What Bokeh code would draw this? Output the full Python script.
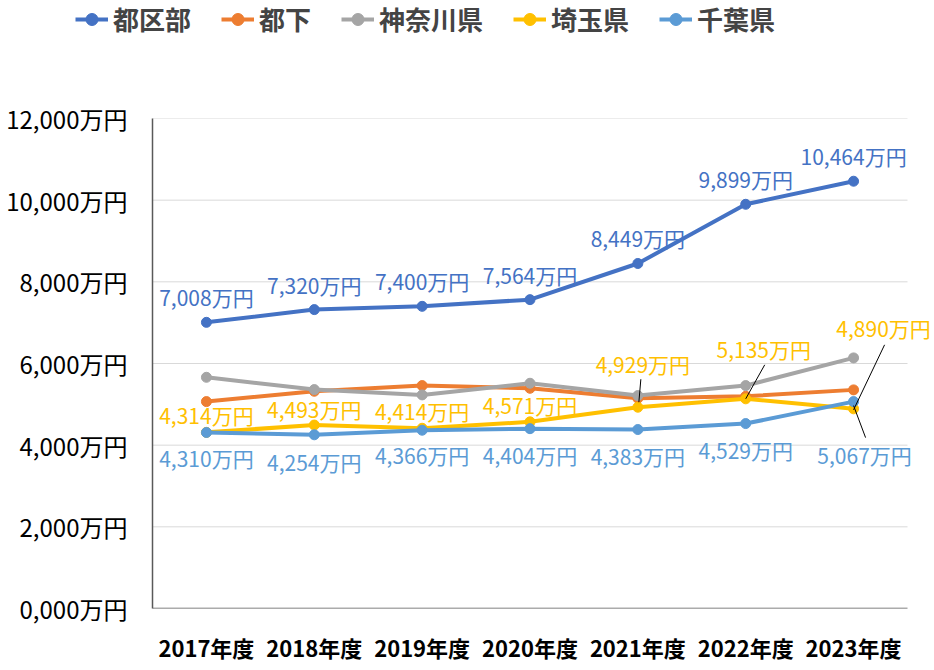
from bokeh.plotting import figure
from bokeh.models import FixedTicker, Legend, LegendItem, ColumnDataSource, Range1d, Row, Column
from bokeh.core.properties import value
from bokeh.embed import file_html
from bokeh.resources import INLINE

years = ["2017年度", "2018年度", "2019年度", "2020年度", "2021年度", "2022年度", "2023年度"]
tokubu = [7008, 7320, 7400, 7564, 8449, 9899, 10464]
tokka = [5067, 5320, 5459, 5393, 5148, 5197, 5354]
kanagawa = [5662, 5361, 5231, 5516, 5214, 5459, 6137]
saitama = [4314, 4493, 4414, 4571, 4929, 5135, 4890]
chiba = [4310, 4254, 4366, 4404, 4383, 4529, 5067]
y_ticks = [0, 2000, 4000, 6000, 8000, 10000, 12000]
y_tick_labels = ["0,000万円", "2,000万円", "4,000万円", "6,000万円", "8,000万円", "10,000万円", "12,000万円"]

names = ["都区部", "都下", "神奈川県", "埼玉県", "千葉県"]
colors = ["#4472C4", "#ED7D31", "#A5A5A5", "#FFC000", "#5B9BD5"]
series = [tokubu, tokka, kanagawa, saitama, chiba]

FONT = value("Noto Sans CJK JP")
W, H = 934, 670
LH = 45  # legend strip height
L, R, T, B = 152, 0, 118 - LH, 62
fw = W - L - R
fh = H - LH - T - B
n = len(years)
xs = list(range(n))
step = 755 / n
x_end = -0.5 + fw / step

# ---- legend strip ----
top = figure(width=W, height=LH, output_backend="svg", toolbar_location=None,
             x_range=Range1d(0, 1), y_range=Range1d(0, 1),
             x_axis_location=None, y_axis_location=None,
             min_border_left=0, min_border_right=0, min_border_top=0, min_border_bottom=0)
top.grid.grid_line_color = None
top.outline_line_color = None
leg_items = []
for name, col in zip(names, colors):
    ln = top.line(x=[-5, -4], y=[-5, -5], line_color=col, line_width=4)
    sc = top.scatter(x=[-5], y=[-5], size=9, fill_color=col, line_color=col)
    leg_items.append(LegendItem(label=name, renderers=[ln, sc]))
legend = Legend(items=leg_items, orientation="horizontal", location=(75, 8),
                label_text_font="Noto Sans CJK JP", label_text_font_size="26px",
                label_text_font_style="bold", glyph_width=33, glyph_height=30,
                label_standoff=5, spacing=30, padding=0, margin=0,
                border_line_color=None, background_fill_alpha=0)
top.add_layout(legend, "center")

# ---- main chart ----
p = figure(width=W, height=H - LH, output_backend="svg", toolbar_location=None,
           x_range=Range1d(-0.5, x_end), y_range=Range1d(0, 12000),
           min_border_left=L, min_border_right=R, min_border_top=T, min_border_bottom=B)
p.outline_line_color = None

dx = 1 / step
dy = 12000 / fh

p.xgrid.grid_line_color = None
p.ygrid.grid_line_color = None
p.yaxis.ticker = FixedTicker(ticks=y_ticks)
p.yaxis.major_label_overrides = {t: s for t, s in zip(y_ticks, y_tick_labels)}
p.xaxis.ticker = FixedTicker(ticks=xs)
p.xaxis.major_label_overrides = {i: y for i, y in zip(xs, years)}
for ax in (p.xaxis, p.yaxis):
    ax.axis_line_color = "#595959"
    ax.axis_line_width = 1.5
    ax.major_tick_line_color = None
    ax.minor_tick_line_color = None
    ax.major_label_text_font = "Noto Sans CJK JP"
    ax.major_label_text_color = "black"
p.xaxis.axis_line_color = None
p.yaxis.major_label_text_font_size = "24px"
p.yaxis.major_label_standoff = 19
p.xaxis.major_label_text_font_size = "22px"
p.xaxis.major_label_text_font_style = "bold"
p.xaxis.major_label_standoff = 16

grid_y = y_ticks[1:]
p.segment(x0=[-0.5] * len(grid_y), y0=grid_y, x1=[n - 0.5] * len(grid_y), y1=grid_y,
          line_color="#d9d9d9", line_width=1)
p.segment(x0=[-0.5], y0=[y_ticks[0]], x1=[n - 0.5], y1=[y_ticks[0]],
          line_color="#595959", line_width=1.5)

for name, col, ys in zip(names, colors, series):
    src = ColumnDataSource(dict(x=xs, y=ys))
    p.line("x", "y", source=src, line_color=col, line_width=4)
    p.scatter("x", "y", source=src, size=10, fill_color=col, line_color=col)

def fmt(v):
    return f"{v:,}万円"

LBL = "21px"
p.text(xs, tokubu, text=[fmt(v) for v in tokubu], text_font=FONT, text_font_size=LBL,
       text_color="#4472C4", text_align="center", text_baseline="middle", y_offset=-25)
ch_xoff = [0, 0, 0, 0, 0, 0, 11]
ch_yoff = [25, 27, 25, 26, 26, 26, 53]
p.text(xs, chiba, text=[fmt(v) for v in chiba], text_font=FONT, text_font_size=LBL,
       text_color="#5B9BD5", text_align="center", text_baseline="middle",
       x_offset=ch_xoff, y_offset=ch_yoff)
sa_xoff = [0, 0, 0, 0, 5, 18, 30]
sa_yoff = [-17, -16, -17, -17, -43, -50, -81]
p.text(xs, saitama, text=[fmt(v) for v in saitama], text_font=FONT, text_font_size=LBL,
       text_color="#FFC000", text_align="center", text_baseline="middle",
       x_offset=sa_xoff, y_offset=sa_yoff)

lead_idx = [4, 5, 6]
lead_start = [(3, 28), (19, 34), (31, 64)]
lead_end = [(1, 5), (0, 0), (0, -1)]
x0 = [lead_idx[k] + lead_start[k][0] * dx for k in range(3)]
y0 = [saitama[lead_idx[k]] + lead_start[k][1] * dy for k in range(3)]
x1 = [lead_idx[k] + lead_end[k][0] * dx for k in range(3)]
y1 = [saitama[lead_idx[k]] + lead_end[k][1] * dy for k in range(3)]
x0.append(6); y0.append(chiba[6] - 4 * dy)
x1.append(6 + 12 * dx); y1.append(chiba[6] - 36 * dy)
p.segment(x0=x0, y0=y0, x1=x1, y1=y1, line_color="black", line_width=1)

layout = Column(children=[Row(children=[top]), p], spacing=0)
open("out.html", "w").write(file_html(layout, INLINE))
